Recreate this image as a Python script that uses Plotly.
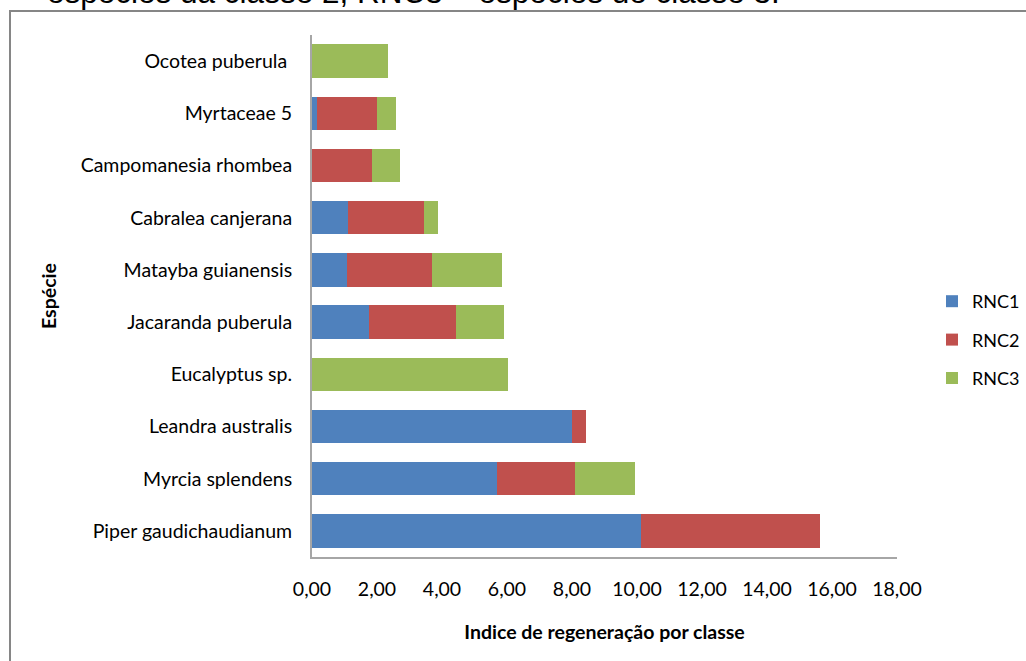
import plotly.graph_objects as go

# Species (bottom to top on the category axis)
especies = [
    "Piper gaudichaudianum",
    "Myrcia splendens",
    "Leandra australis",
    "Eucalyptus sp.",
    "Jacaranda puberula",
    "Matayba guianensis",
    "Cabralea canjerana",
    "Campomanesia rhombea",
    "Myrtaceae 5",
    "Ocotea puberula ",
]

# Regeneration index per size class
rnc1 = [10.12, 5.69, 8.00, 0.00, 1.75, 1.08, 1.10, 0.00, 0.16, 0.00]
rnc2 = [5.51, 2.40, 0.43, 0.00, 2.68, 2.61, 2.35, 1.85, 1.85, 0.00]
rnc3 = [0.00, 1.85, 0.00, 6.03, 1.48, 2.17, 0.42, 0.87, 0.56, 2.35]

series = [("RNC1", rnc1, "#4F81BD"), ("RNC2", rnc2, "#C0504D"), ("RNC3", rnc3, "#9BBB59")]

tick_vals = [0, 2, 4, 6, 8, 10, 12, 14, 16, 18]
tick_text = ["0,00", "2,00", "4,00", "6,00", "8,00", "10,00", "12,00", "14,00", "16,00", "18,00"]

W, H = 1026, 661
ML, MR, MT, MB = 312, 129, 35, 104
PW, PH = W - ML - MR, H - MT - MB


def px_to_paper(x, y):
    return (x - ML) / PW, (H - MB - y) / PH


FONT = "Lato, Open Sans, sans-serif"

fig = go.Figure()
for name, vals, color in series:
    fig.add_trace(go.Bar(
        y=especies, x=vals, name=name, orientation="h",
        marker=dict(color=color, line=dict(width=0)),
        legendgroup=name,
    ))

# Outer chart frame
x0, y0 = px_to_paper(10, 11)
x1, y1 = px_to_paper(1040, 680)
fig.add_shape(type="rect", xref="paper", yref="paper", x0=x0, y0=y1, x1=x1, y1=y0,
              line=dict(color="#868686", width=2), fillcolor="rgba(0,0,0,0)", layer="below")

# Caption line running above the frame
cx, cy = px_to_paper(45, 12)
fig.add_annotation(xref="paper", yref="paper", x=cx, y=cy, xanchor="left", yanchor="bottom",
                   text="espécies da classe 2; RNC3 = espécies de classe 3.",
                   showarrow=False, font=dict(family="Liberation Sans, Arial", size=31.5, color="#000000"))

lx, _ = px_to_paper(932, 0)
_, ly = px_to_paper(0, 283)

fig.update_layout(
    width=W, height=H,
    margin=dict(l=ML, r=MR, t=MT, b=MB, autoexpand=False),
    paper_bgcolor="white", plot_bgcolor="white",
    barmode="stack", bargap=0.36,
    font=dict(family=FONT, size=19.5, color="#000000"),
    showlegend=True,
    legend=dict(x=lx, y=ly, xanchor="left", yanchor="top",
                traceorder="grouped", tracegroupgap=12, font=dict(size=18),
                itemwidth=30, bgcolor="rgba(0,0,0,0)"),
    xaxis=dict(range=[0, 18], tickvals=tick_vals, ticktext=tick_text, showgrid=False,
               zeroline=False, showline=True, linecolor="#A6A6A6", linewidth=2,
               ticks="", ticklabelstandoff=14,
               title=dict(text="<b>Indice de regeneração por classe</b>", standoff=26,
                          font=dict(size=19.5))),
    yaxis=dict(showgrid=False, zeroline=False, showline=True, linecolor="#A6A6A6", linewidth=2,
               ticks="", ticklabelstandoff=14, range=[-0.5, 9.5],
               title=dict(text="<b>Espécie</b>", standoff=19, font=dict(size=19.5))),
)

fig.write_html("out.html")
